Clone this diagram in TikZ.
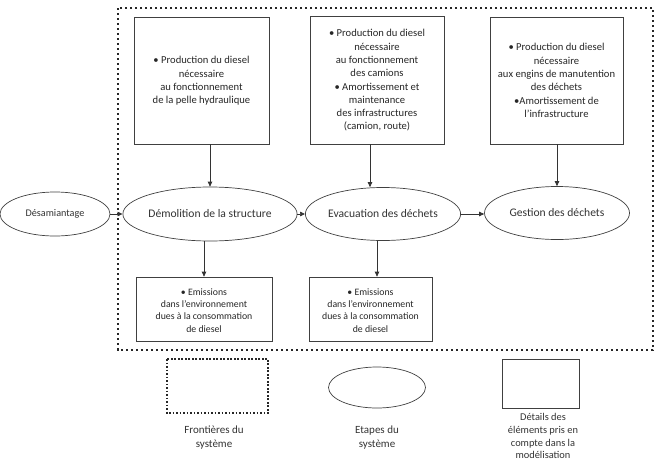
\documentclass[tikz,border=0pt]{standalone}
\usepackage{fontspec}
\setmainfont{Carlito}
\usetikzlibrary{shapes.geometric,arrows.meta}
\begin{document}
\begin{tikzpicture}[x=1pt,y=-1pt,
  boundary/.style={line width=2.3pt,dash pattern=on 2.3pt off 2.7pt,draw=black!85},
  legbound/.style={line width=1.6pt,dash pattern=on 1.6pt off 1.9pt,draw=black!85},
  detail/.style={draw=black!75,line width=0.7pt,rectangle,inner sep=0pt},
  stage/.style={draw=black!75,line width=0.7pt,ellipse,inner sep=0pt,font=\fontsize{11.6}{13}\selectfont,text=black!80},
  boxtext/.style={align=center,font=\fontsize{10.6}{13.3}\selectfont,text=black!85,inner sep=0pt},
  emtext/.style={align=center,font=\fontsize{9.8}{12.3}\selectfont,text=black!85,inner sep=0pt},
  legtext/.style={align=center,font=\fontsize{11}{14}\selectfont,text=black!80,inner sep=0pt},
  arr/.style={draw=black!80,line width=0.7pt,-{Triangle[length=5pt,width=4.5pt]}}]
\useasboundingbox (0,0) rectangle (663,463);

% system boundary
\draw[boundary] (118,8) rectangle (653,350);

% detail boxes (top)
\node[detail,minimum width=135pt,minimum height=127pt] (b1) at (201.5,80.5) {};
\node[detail,minimum width=134pt,minimum height=128pt] (b2) at (377,80) {};
\node[detail,minimum width=133pt,minimum height=127pt] (b3) at (556.5,80.5) {};
\node[boxtext] (t1) at (201.5,81) {• Production du diesel\\nécessaire\\au fonctionnement\\de la pelle hydraulique};
\node[boxtext] (t2) at (377,80.5) {• Production du diesel\\nécessaire\\au fonctionnement\\des camions\\• Amortissement et\\maintenance\\des infrastructures\\(camion, route)};
\node[boxtext] (t3) at (556.5,80.5) {• Production du diesel\\nécessaire\\aux engins de manutention\\des déchets\\•Amortissement de\\l'infrastructure};

% stages
\node[stage,minimum width=110pt,minimum height=44pt,font=\fontsize{10.2}{12}\selectfont] (desam) at (55,214) {Désamiantage};
\node[stage,minimum width=146pt,minimum height=54pt] (demol) at (210,214) {Démolition de la structure};
\node[stage,minimum width=145pt,minimum height=53pt] (evac) at (383,214) {Evacuation des déchets};
\node[stage,minimum width=145pt,minimum height=53pt] (gest) at (557,213) {Gestion des déchets};

% emission boxes
\node[detail,minimum width=136pt,minimum height=64pt] (e1) at (204,309) {};
\node[detail,minimum width=123pt,minimum height=64pt] (e2) at (370.5,309) {};
\node[emtext] (et1) at (204,310.5) {• Emissions\\dans l'environnement\\dues à la consommation\\de diesel};
\node[emtext] (et2) at (370.5,310.5) {• Emissions\\dans l'environnement\\dues à la consommation\\de diesel};

% connectors
\draw[arr] (desam.east) -- (demol.west);
\draw[arr] (demol.east) -- (evac.west);
\draw[arr] (evac.east) -- (gest.west |- evac.east);
\draw[arr] (b1.south -| demol.north) -- (demol.north);
\coordinate (c2) at (370,0);
\draw[arr] (b2.south -| c2) -- (evac.north -| c2);
\draw[arr] (b3.south -| gest.north) -- (gest.north);
\draw[arr] (demol.south -| e1.north) -- (e1.north);
\coordinate (c3) at (377,0);
\draw[arr] (evac.south -| c3) -- (e2.north -| c3);

% legend
\draw[legbound] (167,359) rectangle (268,413);
\node[draw=black!75,line width=0.7pt,ellipse,minimum width=97pt,minimum height=41pt,inner sep=0pt] (legell) at (377,387.5) {};
\node[detail,minimum width=77pt,minimum height=49pt] (legrect) at (540.5,384) {};
\node[legtext] (l1) at (214,438) {Frontières du\\système};
\node[legtext] (l2) at (377,438) {Etapes du\\système};
\node[legtext,anchor=north,font=\fontsize{10.4}{12.6}\selectfont] (l3) at (543,413.5) {Détails des\\éléments pris en\\compte dans la\\modélisation};
\end{tikzpicture}
\end{document}
